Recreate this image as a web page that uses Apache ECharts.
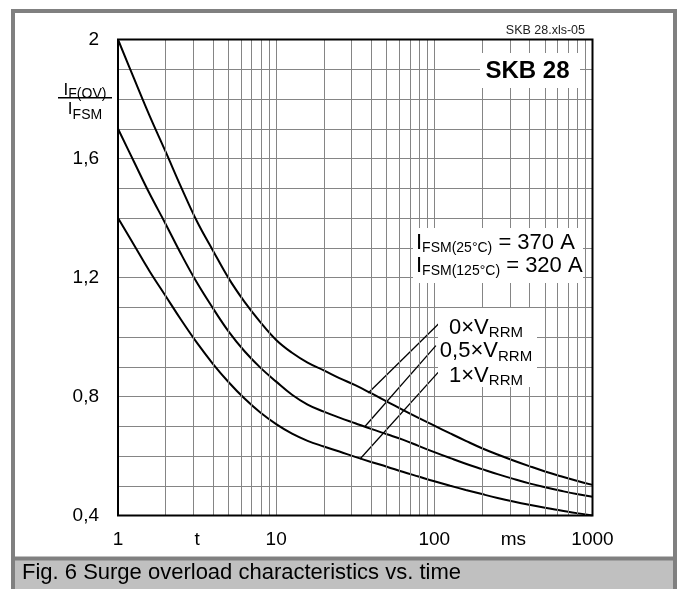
<!DOCTYPE html>
<html><head><meta charset="utf-8">
<script src="https://cdn.jsdelivr.net/npm/echarts@6/dist/echarts.min.js"></script>
<style>html,body{margin:0;padding:0;background:#fff}#c{width:682px;height:590px}</style>
</head><body><div id="c"></div>
<script>
// ---- data ----
const tMs = [1, 1.26, 1.58, 2, 2.51, 3.16, 3.98, 5.01, 6.31, 7.94, 10, 12.6, 15.8, 20, 25.1, 31.6, 39.8, 50.1, 63.1, 79.4, 100, 126, 158, 200, 251, 316, 398, 501, 631, 794, 1000];
const v0 = [2.0, 1.87, 1.745, 1.623, 1.503, 1.388, 1.291, 1.197, 1.118, 1.05, 0.99, 0.947, 0.914, 0.888, 0.862, 0.838, 0.811, 0.783, 0.755, 0.728, 0.702, 0.676, 0.651, 0.626, 0.605, 0.585, 0.566, 0.548, 0.532, 0.517, 0.503];
const v05 = [1.7, 1.59, 1.483, 1.38, 1.278, 1.182, 1.097, 1.018, 0.952, 0.897, 0.85, 0.806, 0.773, 0.749, 0.729, 0.71, 0.691, 0.673, 0.655, 0.634, 0.613, 0.593, 0.574, 0.556, 0.539, 0.523, 0.508, 0.495, 0.483, 0.472, 0.463];
const v1 = [1.4, 1.31, 1.222, 1.138, 1.057, 0.98, 0.91, 0.848, 0.793, 0.746, 0.707, 0.675, 0.651, 0.632, 0.615, 0.597, 0.58, 0.564, 0.547, 0.531, 0.515, 0.5, 0.486, 0.472, 0.459, 0.447, 0.436, 0.426, 0.417, 0.408, 0.4];
// leader lines (start on curve, end at label)
const leaderT = [[38.2, 108.5], [36.4, 102.3], [33.9, 105.7]];
const leaderV = [[0.812, 1.049], [0.699, 0.971], [0.59, 0.881]];
const leaderText = [['0×V', 'RRM'], ['0,5×V', 'RRM'], ['1×V', 'RRM']];
// axes
const xMin = 1, xMax = 1000;
const yMin = 0.4, yMax = 2.0, yStep = 0.1, yLabelStep = 0.4;
const xMinorGrid = [2,3,4,5,6,7,8,9,20,30,40,50,60,70,80,90,200,300,400,500,600,700,800,900];
const xUnitPos = [3.1623, 316.23];
const xUnitText = ['t', 'ms'];
const fsmLines = [[['I', 0], ['FSM(25°C)', 1], [' = 370 A', 0]], [['I', 0], ['FSM(125°C)', 1], [' = 320 A', 0]]];

const FONT = '"Liberation Sans", Arial, Helvetica, sans-serif';
const GRID = '#858585';
const chart = echarts.init(document.getElementById('c'), null, {renderer: 'canvas'});
const zip = (a, b) => a.map((x, i) => [x, b[i]]);

const curve = (v) => ({type: 'line', data: zip(tMs, v), symbol: 'none', smooth: 0.4, silent: true,
  lineStyle: {color: '#000', width: 2}, z: 3});
const leader = (i) => ({type: 'line', data: zip(leaderT[i], leaderV[i]), symbol: 'none', silent: true,
  lineStyle: {color: '#000', width: 1.3}, z: 3});

chart.setOption({
  animation: false,
  backgroundColor: '#fff',
  grid: {left: 118, right: 89.5, top: 39.5, bottom: 74.5, containLabel: false, outerBoundsMode: 'none', show: false},
  xAxis: {type: 'log', logBase: 10, min: xMin, max: xMax,
    axisLine: {show: false}, axisTick: {show: false},
    axisLabel: {color: '#000', fontSize: 19, fontFamily: FONT, margin: 15, formatter: v => String(Math.round(v))},
    splitLine: {show: true, lineStyle: {color: GRID, width: 1}},
    minorTick: {show: false}, minorSplitLine: {show: false}},
  yAxis: {type: 'value', min: yMin, max: yMax, interval: yStep,
    axisLine: {show: false}, axisTick: {show: false},
    axisLabel: {color: '#000', fontSize: 19, fontFamily: FONT, margin: 19,
      formatter: v => { const k = Math.round(v * 10); return (k % Math.round(yLabelStep * 10) === 0) ? String(k / 10).replace('.', ',') : ''; }},
    splitLine: {show: true, lineStyle: {color: GRID, width: 1}}},
  series: [
    {type: 'line', data: [], silent: true, z: 1,
      markLine: {silent: true, symbol: ['none', 'none'], label: {show: false}, animation: false,
        lineStyle: {color: GRID, width: 1, type: 'solid'}, emphasis: {disabled: true},
        data: xMinorGrid.map(v => ({xAxis: v}))}},
    curve(v0), curve(v05), curve(v1),
    leader(0), leader(1), leader(2)
  ]
});

// ---- annotations / frame ----
const cv = document.createElement('canvas').getContext('2d');
const measure = (s, size, w) => { cv.font = (w || 'normal') + ' ' + size + 'px ' + FONT; return cv.measureText(s).width; };
function subLine(x, y, parts, size, subSize, dy, align, z) {
  const ws = parts.map(p => measure(p[0], p[1] ? subSize : size));
  const tot = ws.reduce((a, b) => a + b, 0);
  let cx = align === 'center' ? x - tot / 2 : align === 'right' ? x - tot : x;
  return parts.map((p, i) => {
    const el = {type: 'text', x: cx, y: p[1] ? y + dy : y, z: z || 20, silent: true,
      style: {text: p[0], fontSize: p[1] ? subSize : size, fontFamily: FONT, fill: '#000', align: 'left', verticalAlign: 'middle'}};
    cx += ws[i];
    return el;
  });
}
const [pL, pT] = chart.convertToPixel({gridIndex: 0}, [xMin, yMax]);
const [pR, pB] = chart.convertToPixel({gridIndex: 0}, [xMax, yMin]);

const g = [];
// outer frame
g.push({type: 'rect', z: -5, silent: true, shape: {x: 11, y: 9, width: 666, height: 580}, style: {fill: '#808080'}});
g.push({type: 'rect', z: -4, silent: true, shape: {x: 15, y: 13, width: 658, height: 543.5}, style: {fill: '#fff'}});
g.push({type: 'rect', z: -4, silent: true, shape: {x: 15, y: 560.5, width: 658, height: 28.5}, style: {fill: '#c0c0c0'}});
g.push({type: 'text', x: 22, y: 573, z: 20, silent: true, style: {text: 'Fig. 6 Surge overload characteristics vs. time', fontSize: 22, fontFamily: FONT, fill: '#000', align: 'left', verticalAlign: 'middle'}});
// plot border
g.push({type: 'rect', z: 10, silent: true, shape: {x: pL, y: pT, width: pR - pL, height: pB - pT}, style: {fill: 'none', stroke: '#000', lineWidth: 2}});
// white label boxes
g.push({type: 'rect', z: 8, silent: true, shape: {x: 480, y: 53, width: 100, height: 35}, style: {fill: '#fff'}});
g.push({type: 'rect', z: 8, silent: true, shape: {x: 413, y: 228, width: 170, height: 55}, style: {fill: '#fff'}});
g.push({type: 'rect', z: 8, silent: true, shape: {x: 438, y: 308, width: 99, height: 79}, style: {fill: '#fff'}});
// titles
g.push({type: 'text', x: 585, y: 31, z: 20, silent: true, style: {text: 'SKB 28.xls-05', fontSize: 12.5, fontFamily: FONT, fill: '#222', align: 'right', verticalAlign: 'middle'}});
g.push({type: 'text', x: 527.5, y: 71, z: 20, silent: true, style: {text: 'SKB 28', fontSize: 24, fontWeight: 'bold', fontFamily: FONT, fill: '#000', align: 'center', verticalAlign: 'middle'}});
// I_FSM annotation
g.push(...subLine(416, 243, fsmLines[0], 22, 14, 5.5, 'left'));
g.push(...subLine(416, 266, fsmLines[1], 22, 14, 5.5, 'left'));
// V_RRM labels
const ly = [327.5, 351, 375.5];
leaderText.forEach((p, i) => g.push(...subLine(486, ly[i], [[p[0], 0], [p[1], 1]], 22, 15, 5.5, 'center')));
// y-axis title fraction
g.push(...subLine(85, 90.5, [['I', 0], ['F(OV)', 1]], 17, 14, 4, 'center'));
g.push({type: 'line', z: 20, silent: true, shape: {x1: 58, y1: 97.7, x2: 112, y2: 97.7}, style: {stroke: '#000', lineWidth: 1.5}});
g.push(...subLine(85, 109.5, [['I', 0], ['FSM', 1]], 17, 14, 5.5, 'center'));
// unit labels on x axis
xUnitPos.forEach((v, i) => {
  const px = chart.convertToPixel({xAxisIndex: 0}, v);
  g.push({type: 'text', x: px, y: pB + 15, z: 20, silent: true, style: {text: xUnitText[i], fontSize: 19, fontFamily: FONT, fill: '#000', align: 'center', verticalAlign: 'top'}});
});
chart.setOption({graphic: {elements: g}});
</script>
</body></html>
